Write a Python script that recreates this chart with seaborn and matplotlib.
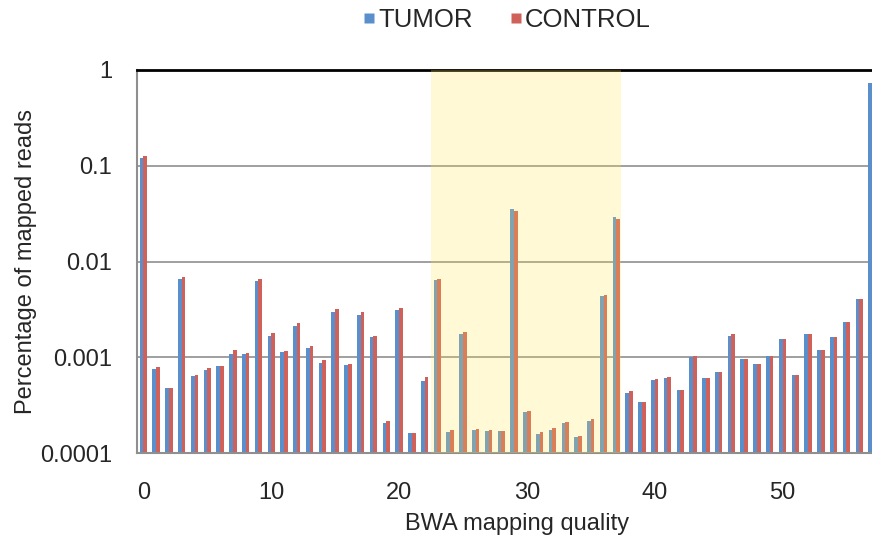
import numpy as np
import pandas as pd
import matplotlib
matplotlib.use("Agg")
import matplotlib.pyplot as plt
import seaborn as sns
from matplotlib.lines import Line2D

# values (log scale)
quality = list(range(58))
tumor = [0.121, 0.00076, 0.00048, 0.0066, 0.00063, 0.00073, 0.00081, 0.00107, 0.00109, 0.0063,
         0.00166, 0.00113, 0.00214, 0.00126, 0.00088, 0.00295, 0.00084, 0.00273, 0.00161, 0.000206,
         0.0031, 0.000163, 0.00056, 0.0064, 0.000166, 0.00177, 0.000175, 0.00017, 0.000171, 0.035,
         0.00027, 0.000159, 0.000175, 0.000206, 0.000147, 0.000216, 0.0044, 0.0293, 0.000427, 0.00034,
         0.000575, 0.00061, 0.000452, 0.00101, 0.00061, 0.0007, 0.00166, 0.00097, 0.00086, 0.00104,
         0.00156, 0.00066, 0.00173, 0.00118, 0.00161, 0.00232, 0.0041, 0.726]
control = [0.125, 0.0008, 0.00048, 0.0069, 0.00066, 0.00077, 0.00081, 0.00118, 0.00111, 0.0066,
           0.0018, 0.00116, 0.0023, 0.00131, 0.00093, 0.0032, 0.00086, 0.003, 0.00168, 0.000216,
           0.00325, 0.000163, 0.00062, 0.0065, 0.000173, 0.00182, 0.00018, 0.000173, 0.000171, 0.0336,
           0.000272, 0.000164, 0.000182, 0.000212, 0.000152, 0.000229, 0.0045, 0.0277, 0.00044, 0.00034,
           0.00059, 0.00062, 0.000452, 0.00104, 0.00061, 0.0007, 0.00174, 0.00096, 0.00086, 0.00104,
           0.00156, 0.00066, 0.00173, 0.00118, 0.00161, 0.00232, 0.0041, 0.72]
groups = ["TUMOR", "CONTROL"]
highlight = (22.5, 37.35)
y_ticks = [0.0001, 0.001, 0.01, 0.1, 1]
y_ticklabels = ["0.0001", "0.001", "0.01", "0.1", "1"]

df = pd.DataFrame({
    "quality": quality * 2,
    "value": tumor + control,
    "group": ["TUMOR"] * len(tumor) + ["CONTROL"] * len(control),
})

colors = {"TUMOR": "#5A8FCC", "CONTROL": "#D0605A"}

sns.set_style("white")
plt.rcParams["font.family"] = ["Liberation Sans", "DejaVu Sans"]

fig = plt.figure(figsize=(8.72, 5.36), dpi=100)
ax = fig.add_axes([137 / 872, 1 - 453 / 536, 1 - 137 / 872, (453 - 70) / 536])
ax.set_yscale("log")

sns.barplot(data=df, x="quality", y="value", hue="group", hue_order=groups,
            palette=colors, width=0.58, saturation=1, legend=False, ax=ax,
            linewidth=0, edgecolor="none")
for p in ax.patches:
    p.set_zorder(2)

ax.set_ylim(1e-4, 1)
ax.set_xlim(-0.5, 57.0)

# translucent yellow band drawn over the bars
ax.axvspan(*highlight, color="#FFE650", alpha=0.23, zorder=3, lw=0)

ax.set_yticks(y_ticks)
ax.set_yticklabels(y_ticklabels)
ax.yaxis.set_minor_locator(matplotlib.ticker.NullLocator())
for v in y_ticks[1:-1]:
    ax.axhline(v, color="#8f8f8f", lw=1.2, zorder=0.5)

ax.set_xticks(range(0, 58, 10))
ax.set_xticklabels([str(q) for q in range(0, 58, 10)])
ax.set_xticks(np.arange(-0.5, 57.5, 1), minor=True)
ax.tick_params(axis="x", which="major", length=0, pad=21, labelsize=17)
ax.tick_params(axis="x", which="minor", length=5, width=1, color="#9a9a9a", direction="out")
ax.tick_params(axis="y", length=0, pad=18, labelsize=17)
ax.set_xlabel("")
ax.set_ylabel("")

for side in ["left", "bottom"]:
    ax.spines[side].set_color("#8f8f8f")
    ax.spines[side].set_linewidth(1.5)
ax.spines["right"].set_visible(False)
ax.spines["top"].set_color("black")
ax.spines["top"].set_linewidth(2)

fig.text(0.593, 0.022, "BWA mapping quality", ha="center", va="center", fontsize=17)
fig.text(0.030, 0.513, "Percentage of mapped reads", ha="center", va="center",
         rotation=90, fontsize=17)

handles = [Line2D([], [], marker="s", linestyle="none", markersize=6.5,
                  markerfacecolor=colors[g], markeredgecolor="none", label=g) for g in groups]
fig.legend(handles=handles, loc="center", bbox_to_anchor=(0.582, 0.962), ncol=2,
           frameon=False, fontsize=18.5, handlelength=0.4, handletextpad=0.15,
           columnspacing=1.5, borderaxespad=0)

fig.savefig("out.png", dpi=100)
plt.close(fig)
